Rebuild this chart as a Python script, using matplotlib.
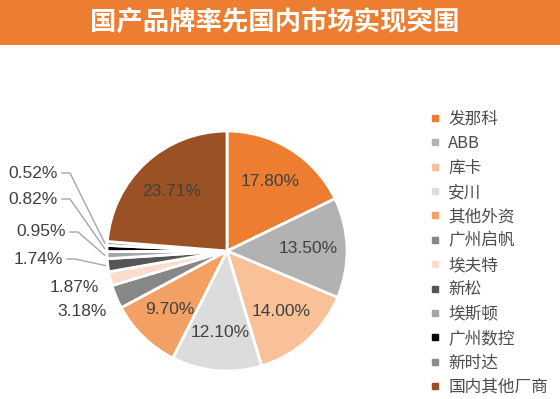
import numpy as np
import matplotlib.pyplot as plt
from matplotlib.lines import Line2D
from matplotlib.patches import Rectangle

plt.rcParams['font.family'] = ['Noto Sans CJK SC', 'DejaVu Sans']

title = "国产品牌率先国内市场实现突围"
brands = ["发那科", "ABB", "库卡", "安川", "其他外资", "广州启帆", "埃夫特",
          "新松", "埃斯顿", "广州数控", "新时达", "国内其他厂商"]
shares = [17.80, 13.50, 14.00, 12.10, 9.70, 3.18, 1.87, 1.74, 0.95, 0.82, 0.52, 23.71]
colors = ["#ED7D31", "#B2B2B2", "#F8C197", "#DCDCDC", "#F2A064", "#878787",
          "#FCDDCB", "#555555", "#A5A5A5", "#000000", "#8C8C8C", "#9A5224"]

# labels of the thinnest slices sit on the left with leader lines (image px: right edge, centre y)
callouts = {"新时达": (58, 173), "广州数控": (58, 199), "埃斯顿": (66, 232), "新松": (63, 259)}

W, H = 560, 399
fig = plt.figure(figsize=(W / 100, H / 100), dpi=100)
ax = fig.add_axes([0, 0, 1, 1])

# title bar
ax.add_patch(Rectangle((0, H - 45), W, 45, color="#ED7D31", lw=0))
ax.text(275, H - 22, title, color="white", fontsize=19, fontweight="bold",
        ha="center", va="center")

cx, cy, R = 227, H - 251, 120
wedges, _ = ax.pie(shares, colors=colors, startangle=90, counterclock=False,
                   center=(cx, cy), radius=R,
                   wedgeprops=dict(edgecolor="white", linewidth=2))
ax.set_xlim(0, W)
ax.set_ylim(0, H)
ax.set_aspect("equal")
ax.axis("off")

lab_font = dict(family=["Liberation Sans", "DejaVu Sans"], fontsize=12.5, color="#404040")
for name, w, v in zip(brands, wedges, shares):
    ang = np.deg2rad((w.theta1 + w.theta2) / 2)
    ux, uy = np.cos(ang), np.sin(ang)
    txt = f"{v:.2f}%"
    if v >= 5:
        ax.text(cx + 0.68 * R * ux, cy + 0.68 * R * uy, txt, ha="center", va="center", **lab_font)
    elif name in callouts:
        tx, ty = callouts[name]
        ty = H - ty
        ax.text(tx, ty, txt, ha="right", va="center", **lab_font)
        ax.plot([tx + 4, tx + 12, cx + 1.02 * R * ux], [ty, ty, cy + 1.02 * R * uy],
                color="#A6A6A6", lw=1)
    else:
        ax.text(cx + 1.31 * R * ux, cy + 1.31 * R * uy, txt, ha="center", va="center", **lab_font)

handles = [Line2D([], [], marker="s", ls="none", color=c, markersize=4) for c in colors]
ax.legend(handles, brands, loc="upper left", bbox_to_anchor=(430 / W, 1 - 111 / H),
          bbox_transform=fig.transFigure, frameon=False, fontsize=12,
          labelspacing=0.44, handlelength=0.6, handletextpad=0.5,
          borderaxespad=0, borderpad=0, labelcolor="#4D4D4D")

fig.savefig("out.png", dpi=100)
